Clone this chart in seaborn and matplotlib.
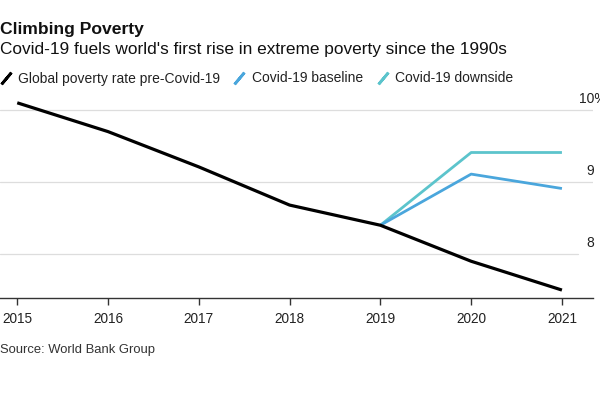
import matplotlib
matplotlib.use("Agg")
import matplotlib.pyplot as plt
import matplotlib.transforms as mtransforms
from matplotlib.lines import Line2D
import seaborn as sns
import pandas as pd

years = [2015, 2016, 2017, 2018, 2019, 2020, 2021]
pre_covid = [10.10, 9.70, 9.21, 8.68, 8.40, 7.90, 7.50]
baseline_years = [2019, 2020, 2021]
baseline = [8.40, 9.11, 8.91]
downside_years = [2019, 2020, 2021]
downside = [8.40, 9.41, 9.41]

series_names = ["Global poverty rate pre-Covid-19", "Covid-19 baseline", "Covid-19 downside"]
colors = ["#000000", "#4aa6dc", "#5cc4cc"]
y_ticks = [8, 9, 10]
y_labels = ["8", "9", "10%"]

title = "Climbing Poverty"
subtitle = "Covid-19 fuels world's first rise in extreme poverty since the 1990s"
source = "Source: World Bank Group"

df = pd.concat([
    pd.DataFrame({"year": years, "rate": pre_covid, "series": series_names[0]}),
    pd.DataFrame({"year": baseline_years, "rate": baseline, "series": series_names[1]}),
    pd.DataFrame({"year": downside_years, "rate": downside, "series": series_names[2]}),
])

sns.set_theme(style="white")
plt.rcParams["font.family"] = ["Liberation Sans", "DejaVu Sans"]

fig = plt.figure(figsize=(6.0, 3.98), dpi=100)
ax = fig.add_axes([0.0, 0.2513, 0.988, 0.5085])

palette = dict(zip(series_names, colors))
order = [series_names[2], series_names[1], series_names[0]]
for name in order:
    sub = df[df["series"] == name]
    sns.lineplot(data=sub, x="year", y="rate", color=palette[name],
                 linewidth=2.3 if name == series_names[0] else 2.0,
                 ax=ax, legend=False, solid_joinstyle="round", solid_capstyle="butt")

ax.set_xlim(2014.81, 2021.34)
ax.set_ylim(7.39, 10.2)
ax.set_xlabel("")
ax.set_ylabel("")
ax.set_yticks([])
ax.set_xticks(years)
ax.set_xticklabels([str(y) for y in years], fontsize=9.8, color="#222222")
ax.tick_params(axis="x", length=5, width=1, color="#333333", direction="out", pad=5,
               bottom=True)
for side in ["top", "right", "left"]:
    ax.spines[side].set_visible(False)
ax.spines["bottom"].set_color("#333333")
ax.spines["bottom"].set_linewidth(1.0)

grid_ends = {10: 1.0, 9: 1.0, 8: 578 / 593}
for yt in y_ticks:
    ax.axhline(yt, xmin=0, xmax=grid_ends[yt], color="#dddddd", linewidth=0.9, zorder=0)

trans = mtransforms.blended_transform_factory(fig.transFigure, ax.transData)
offset = mtransforms.ScaledTranslation(0, 7 / 100, fig.dpi_scale_trans)
for yt, lab in zip(y_ticks, y_labels):
    if lab.endswith("%"):
        ax.text(579 / 600, yt, lab, transform=trans + offset, ha="left", va="baseline",
                fontsize=10, color="#222222", clip_on=False)
    else:
        ax.text(594 / 600, yt, lab, transform=trans + offset, ha="right", va="baseline",
                fontsize=10, color="#222222", clip_on=False)

fig.text(0.0, 1 - 34.3 / 398, title, fontsize=12.6, fontweight="bold", color="#111111",
         ha="left", va="baseline")
fig.text(0.0, 1 - 54 / 398, subtitle, fontsize=12.45, color="#111111",
         ha="left", va="baseline")
fig.text(0.0, 1 - 353 / 398, source, fontsize=9.4, color="#333333",
         ha="left", va="baseline")

handles = [Line2D([], [], linestyle="none", marker=(2, 2, -40), markersize=11,
                  markeredgewidth=2, color=c) for c in colors]
leg = fig.legend(handles, series_names, loc="center left",
                 bbox_to_anchor=(0.0, 1 - 78.5 / 398), ncol=3, frameon=False,
                 fontsize=10.0, handlelength=0.8, handletextpad=0.5, columnspacing=1.0,
                 borderaxespad=0, borderpad=0)
for t in leg.get_texts():
    t.set_color("#222222")

fig.savefig("out.png", dpi=100)
